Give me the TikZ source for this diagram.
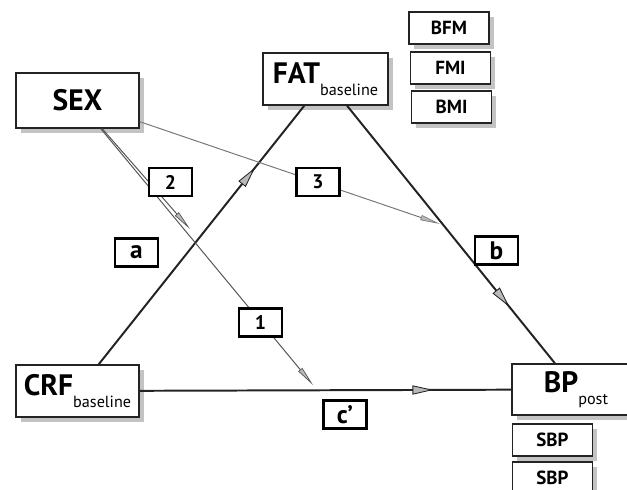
\documentclass[tikz,border=0pt]{standalone}
\usepackage{fontspec}
\setmainfont{PT Sans}
\usepackage{tikz}
\usetikzlibrary{arrows.meta, shadows, decorations.markings, positioning}
\definecolor{lnblack}{RGB}{35,35,35}
\definecolor{lngray}{RGB}{85,85,85}
\definecolor{tipgray}{RGB}{185,185,185}
\definecolor{shgray}{RGB}{195,195,195}

\newcommand{\bigtxt}{\fontsize{21}{24}\selectfont\bfseries}
\newcommand{\subtxt}[1]{\raisebox{-8.5pt}{\fontsize{11.5}{13}\selectfont\mdseries #1}}

\begin{document}
\begin{tikzpicture}[
  x=0.025cm, y=-0.025cm,
  every node/.style={font=\small},
  var/.style={rectangle, draw=lnblack, line width=1pt, fill=white,
              inner sep=1pt, align=center,
              drop shadow={shadow xshift=3.5pt, shadow yshift=-3.5pt,
                           fill=shgray, opacity=1}},
  small/.style={var, minimum width=2cm, minimum height=0.8cm,
                font=\fontsize{13.5}{15}\selectfont\bfseries},
  lbl/.style={rectangle, draw=black, line width=1.5pt, fill=white,
              minimum width=1.075cm, minimum height=0.7cm, inner sep=0pt,
              font=\fontsize{14}{16}\selectfont\bfseries},
  lblbig/.style={lbl, font=\fontsize{18}{20}\selectfont\bfseries},
  thickln/.style={line width=1.4pt, color=lnblack},
  midtip/.style={postaction={decorate, decoration={markings,
      mark=at position #1 with {\arrow{Triangle[length=0.52cm, width=0.23cm,
      fill=tipgray, line width=0.6pt]}}}}},
  thinln/.style={-{Triangle[length=0.5cm, width=0.13cm, fill=tipgray,
                 line width=0.5pt]}, line width=0.7pt, color=lngray},
]
\useasboundingbox (0,0) rectangle (627,490);

% Variables
\node[var, minimum width=3.075cm, minimum height=1.375cm] (sex) at (77.5,100.5) {\bigtxt SEX};
\node[var, minimum width=3.125cm, minimum height=1.3cm] (fat) at (325.5,79) {\bigtxt FAT\subtxt{baseline}};
\node[var, minimum width=3.075cm, minimum height=1.3cm] (crf) at (77.5,391) {\bigtxt CRF\subtxt{baseline}};
\node[var, minimum width=3.2cm, minimum height=1.275cm] (bp) at (576,389.5) {\bigtxt BP\subtxt{post}};

% Measures
\node[small] (bfm) at (449,28) {BFM};
\node[small] (fmi) at (450.5,68) {FMI};
\node[small] (bmi) at (451.5,107) {BMI};
\node[small] (sbpa) at (552.5,440) {SBP};
\node[small] (sbpb) at (552.5,478) {SBP};

% Main paths
\draw[thickln, midtip=0.76] (crf) -- (fat);
\draw[thickln, midtip=0.78] (fat) -- (bp);
\draw[thickln, midtip=0.79] (crf) -- (bp);

% Paths from sex
\coordinate (aend) at (190,229);
\coordinate (bend) at (440,224);
\coordinate (cend) at (313,385);
\draw[thinln] (sex) -- (cend);
\draw[thinln] (sex) -- (aend);
\draw[thinln, color=lngray!80] (sex) -- (bend);

% Labels
\node[lbl] (l1) at (260.5,322.5) {1};
\node[lbl] (l2) at (170.5,182) {2};
\node[lbl] (l3) at (318,182) {3};
\node[lblbig] (la) at (136.5,252.5) {a};
\node[lblbig] (lb) at (496.5,250.5) {b};
\node[lblbig] (lc) at (345,414.5) {c’};

\end{tikzpicture}
\end{document}
